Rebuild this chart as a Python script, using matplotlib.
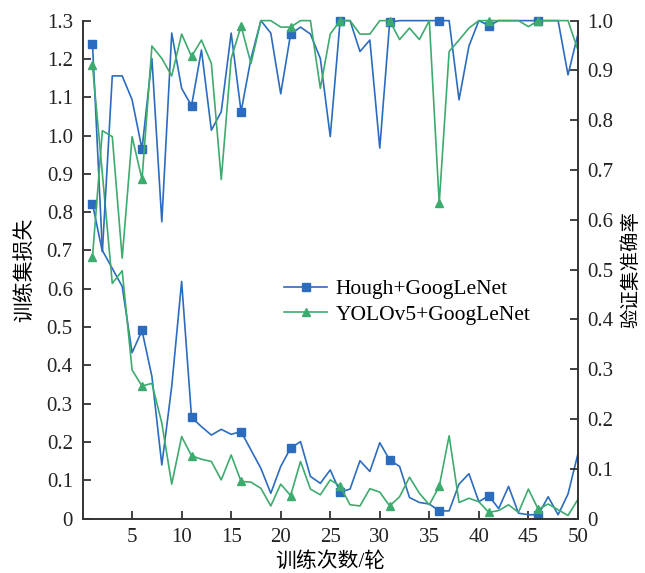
import matplotlib
matplotlib.use('Agg')
import matplotlib.pyplot as plt
from matplotlib.ticker import FuncFormatter

plt.rcParams['font.family'] = ['Liberation Serif', 'Noto Sans CJK SC']
plt.rcParams['axes.unicode_minus'] = False

epochs = list(range(1, 51))

hough_loss = [1.24, 0.70, 0.653, 0.606, 0.433, 0.491, 0.371, 0.14, 0.345, 0.619,
              0.264, 0.24, 0.218, 0.233, 0.220, 0.227, 0.179, 0.131, 0.066, 0.136,
              0.184, 0.201, 0.110, 0.092, 0.127, 0.069, 0.077, 0.151, 0.123, 0.198,
              0.153, 0.136, 0.055, 0.042, 0.038, 0.020, 0.020, 0.090, 0.117, 0.044,
              0.060, 0.026, 0.084, 0.014, 0.010, 0.010, 0.057, 0.010, 0.064, 0.169]

yolo_loss = [1.184, 0.90, 0.614, 0.647, 0.388, 0.346, 0.353, 0.249, 0.09, 0.214,
             0.164, 0.155, 0.149, 0.101, 0.166, 0.097, 0.095, 0.079, 0.033, 0.090,
             0.060, 0.149, 0.077, 0.062, 0.101, 0.085, 0.036, 0.033, 0.078, 0.069,
             0.033, 0.057, 0.108, 0.066, 0.036, 0.084, 0.216, 0.042, 0.053, 0.044,
             0.016, 0.021, 0.036, 0.016, 0.077, 0.024, 0.038, 0.023, 0.008, 0.050]

hough_acc = [0.632, 0.536, 0.889, 0.889, 0.841, 0.742, 0.924, 0.596, 0.975, 0.864,
             0.829, 0.941, 0.780, 0.817, 0.975, 0.817, 0.924, 1.0, 0.975, 0.853,
             0.973, 0.987, 0.973, 0.924, 0.767, 1.0, 1.0, 0.938, 0.961, 0.744,
             0.997, 1.0, 1.0, 1.0, 1.0, 1.0, 1.0, 0.841, 0.949, 1.0,
             0.99, 1.0, 1.0, 1.0, 1.0, 1.0, 1.0, 1.0, 0.891, 0.973]

yolo_acc = [0.525, 0.779, 0.767, 0.523, 0.767, 0.681, 0.949, 0.924, 0.889, 0.973,
            0.928, 0.961, 0.914, 0.681, 0.924, 0.989, 0.914, 1.0, 1.0, 0.987,
            0.987, 1.0, 1.0, 0.864, 0.973, 1.0, 1.0, 0.973, 0.973, 1.0,
            1.0, 0.962, 0.985, 0.962, 1.0, 0.633, 0.938, 0.961, 0.985, 1.0,
            1.0, 1.0, 1.0, 1.0, 0.988, 1.0, 1.0, 1.0, 1.0, 0.941]

names = ['Hough+GoogLeNet', 'YOLOv5+GoogLeNet']
blue = '#2c6cbf'
green = '#3dab6e'

fig = plt.figure(figsize=(6.45, 5.73), dpi=100)
ax = fig.add_axes([0.128, 0.095, 0.768, 0.869])
ax2 = ax.twinx()

mk = list(range(0, 50, 5))
l1, = ax.plot(epochs, hough_loss, color=blue, lw=1.2, marker='s', ms=6, markevery=mk, label=names[0])
l2, = ax.plot(epochs, yolo_loss, color=green, lw=1.2, marker='^', ms=6, markevery=mk, label=names[1])
ax2.plot(epochs, hough_acc, color=blue, lw=1.2, marker='s', ms=6, markevery=mk, clip_on=False)
ax2.plot(epochs, yolo_acc, color=green, lw=1.2, marker='^', ms=6, markevery=mk, clip_on=False)

ax.set_xlim(0, 50)
ax.set_ylim(0, 1.3)
ax2.set_ylim(0, 1.0)
ax.set_xticks(range(5, 51, 5))
ax.set_yticks([i / 10 for i in range(14)])
ax2.set_yticks([i / 10 for i in range(11)])
fmt = FuncFormatter(lambda v, p: '0' if abs(v) < 1e-9 else '%.1f' % v)
ax.yaxis.set_major_formatter(fmt)
ax2.yaxis.set_major_formatter(fmt)

for a in (ax, ax2):
    a.tick_params(direction='in', length=6, width=1.2, labelsize=15, colors='#222222', pad=7)
    a.spines['top'].set_visible(False)
    for s in ('left', 'right', 'bottom'):
        a.spines[s].set_linewidth(1.2)
        a.spines[s].set_color('#333333')

ax.set_xlabel('训练次数/轮', fontsize=15, labelpad=3)
ax.set_ylabel('训练集损失', fontsize=15, labelpad=8)
ax2.set_ylabel('验证集准确率', fontsize=14, labelpad=6)

ax2.legend([l1, l2], names, loc='center left', bbox_to_anchor=(0.368, 0.435),
           frameon=False, fontsize=15.5, handlelength=2.0, handletextpad=0.4,
           labelspacing=0.25)

fig.savefig('out.png', dpi=100)
